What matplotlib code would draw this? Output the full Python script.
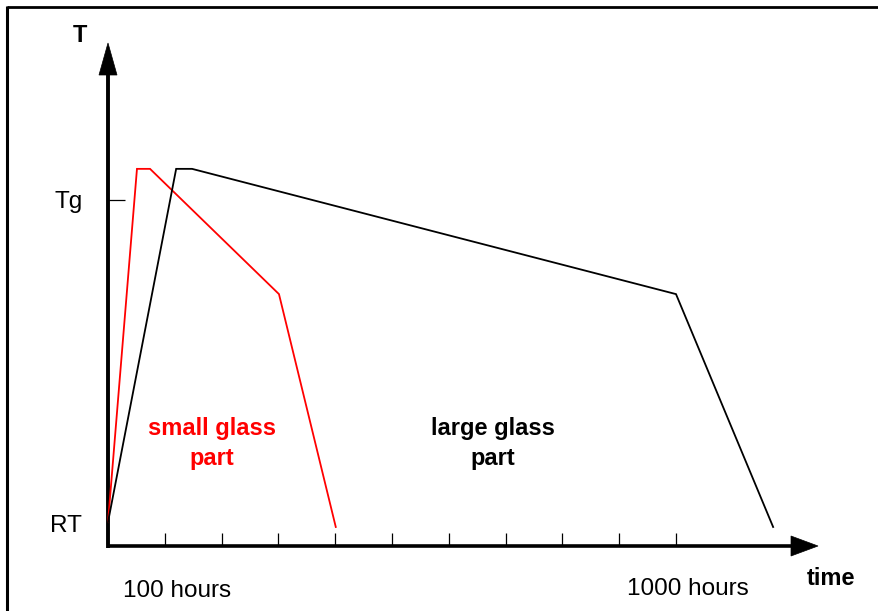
import matplotlib
matplotlib.use("Agg")
import matplotlib.pyplot as plt
from matplotlib.patches import Polygon
from matplotlib.lines import Line2D
import numpy as np

plt.rcParams['font.family'] = ['Liberation Sans', 'DejaVu Sans']

# ---- data (x: tick units of time axis, y: temperature with Tg = 1) ----
small_x = [0.0, 0.51, 0.74, 3.01, 4.01]
small_y = [0.069, 1.09, 1.09, 0.728, 0.055]
large_x = [0.0, 1.20, 1.48, 10.0, 11.71]
large_y = [0.069, 1.09, 1.09, 0.728, 0.055]
x_ticks = list(range(1, 11))
y_tick_Tg = 1.0
y_tick_RT = 0.069

# pixel scale helpers (layout)
PX_X = 56.8   # px per x unit
PX_Y = 346.0  # px per y unit

fig = plt.figure(figsize=(8.79, 6.11), dpi=100)
ax = fig.add_axes([0, 0, 1, 1])
ax.set_xlim(-108 / PX_X, 771 / PX_X)
ax.set_ylim(-65 / PX_Y, 546 / PX_Y)
ax.axis('off')

# frame (left and top border)
fig.add_artist(Line2D([7.5 / 879, 7.5 / 879], [0, 1 - 6 / 611], color='black', lw=2.2,
                      transform=fig.transFigure, solid_capstyle='butt'))
fig.add_artist(Line2D([7.5 / 879, 1], [1 - 6.5 / 611, 1 - 6.5 / 611], color='black', lw=2.0,
                      transform=fig.transFigure, solid_capstyle='butt'))

# axes arrows
x_end = (818 - 108) / PX_X
y_end = (546 - 43) / PX_Y
head_len_x = 27 / PX_X
head_half_x = 10 / PX_Y
head_len_y = 32 / PX_Y
head_half_y = 9 / PX_X
ax.plot([0, x_end - head_len_x], [0, 0], color='black', lw=2.6, solid_capstyle='butt')
ax.plot([0, 0], [-2 / PX_Y, y_end - head_len_y], color='black', lw=2.8, solid_capstyle='butt')
ax.add_patch(Polygon([[x_end, 0], [x_end - head_len_x, head_half_x],
                      [x_end - head_len_x, -head_half_x]], closed=True,
                     facecolor='black', edgecolor='black', lw=0.5))
ax.add_patch(Polygon([[0, y_end], [-head_half_y, y_end - head_len_y],
                      [head_half_y, y_end - head_len_y]], closed=True,
                     facecolor='black', edgecolor='black', lw=0.5))

# ticks
tick_h = 13 / PX_Y
ax.vlines(x_ticks, 0, tick_h, color='black', lw=0.9)
ax.hlines([y_tick_Tg], 0, 17 / PX_X, color='black', lw=0.9)

# curves
ax.plot(small_x, small_y, color='#ff0000', lw=1.3, solid_joinstyle='miter')
ax.plot(large_x, large_y, color='black', lw=1.3, solid_joinstyle='miter')

# labels
fs = 17.5
ax.text(-0.49, (546 - 42) / PX_Y, 'T', ha='center', va='baseline', fontsize=17, fontweight='bold')
ax.text(-25 / PX_X, (546 - 208) / PX_Y, 'Tg', ha='right', va='baseline', fontsize=fs)
ax.text(-26 / PX_X, (546 - 532) / PX_Y, 'RT', ha='right', va='baseline', fontsize=fs)
ax.text(1.21, (546 - 597) / PX_Y, '100 hours', ha='center', va='baseline', fontsize=fs)
ax.text(10.21, (546 - 595) / PX_Y, '1000 hours', ha='center', va='baseline', fontsize=fs)
ax.text(12.73, (546 - 585) / PX_Y, 'time', ha='center', va='baseline', fontsize=17, fontweight='bold')

ax.text(1.83, (546 - 435) / PX_Y, 'small glass', ha='center', va='baseline', fontsize=17,
        fontweight='bold', color='#ff0000')
ax.text(1.83, (546 - 465) / PX_Y, 'part', ha='center', va='baseline', fontsize=17,
        fontweight='bold', color='#ff0000')
ax.text(6.78, (546 - 435) / PX_Y, 'large glass', ha='center', va='baseline', fontsize=17,
        fontweight='bold', color='black')
ax.text(6.78, (546 - 465) / PX_Y, 'part', ha='center', va='baseline', fontsize=17,
        fontweight='bold', color='black')

fig.savefig('out.png', dpi=100)
